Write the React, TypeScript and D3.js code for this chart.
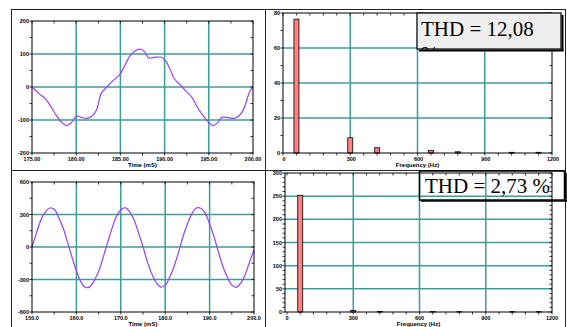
import React from "react";
import * as d3 from "d3";

// ---- Data ----
const topTime = [175.0, 175.8, 176.6, 177.2, 177.8, 178.4, 178.9, 179.4, 179.8, 180.1, 180.6, 181.2, 181.8, 182.3, 182.6, 182.8, 183.3, 184.2, 185.0, 185.5, 186.1, 186.7, 187.2, 187.7, 188.2, 188.8, 189.6, 190.1, 190.6, 191.1, 191.7, 192.4, 193.1, 193.8, 194.5, 195.1, 195.5, 196.0, 196.5, 197.2, 197.9, 198.4, 198.9, 199.3, 199.6, 200.0];
const topVoltage = [0, -20, -38, -62, -88, -108, -117, -110, -95, -88, -92, -95, -88, -70, -40, -20, -5, 20, 40, 65, 95, 110, 115, 108, 88, 90, 90, 80, 55, 25, 8, -12, -32, -65, -92, -110, -117, -108, -92, -93, -95, -88, -70, -40, -15, 0];

const bottomTime = [150, 151, 152, 153, 154, 155, 156, 157, 158, 159, 160, 161, 162, 163, 164, 165, 166, 167, 168, 169, 170, 171, 172, 173, 174, 175, 176, 177, 178, 179, 180, 181, 182, 183, 184, 185, 186, 187, 188, 189, 190, 191, 192, 193, 194, 195, 196, 197, 198, 199, 200];
const bottomVoltage = [0, 128, 250, 322, 360, 348, 272, 178, 45, -92, -218, -320, -372, -368, -310, -225, -100, 38, 170, 282, 342, 362, 325, 250, 130, 4, -140, -250, -330, -370, -352, -280, -180, -50, 95, 212, 308, 360, 358, 315, 212, 95, -48, -180, -280, -350, -372, -335, -255, -140, -28];

const topHarmFreq = [60, 300, 420, 660, 780, 1020, 1140];
const topHarmAmp = [76.5, 8.7, 3.0, 1.5, 0.7, 0.4, 0.4];
const botHarmFreq = [60, 300, 420, 660, 780, 1020, 1140];
const botHarmAmp = [252, 3.5, 1.0, 0.8, 0.8, 0.8, 0.8];

const tlXTicks = [175, 180, 185, 190, 195, 200];
const tlXLabels = ["175.00", "180.00", "185.00", "190.00", "195.00", "200.00"];
const tlYTicks = [-200, -100, 0, 100, 200];
const tlYLabels = ["-200", "-100", "0", "100", "200"];

const blXTicks = [150, 160, 170, 180, 190, 200];
const blXLabels = ["150.0", "160.0", "170.0", "180.0", "190.0", "200.0"];
const blYTicks = [-600, -300, 0, 300, 600];
const blYLabels = ["-600", "-300", "0", "300", "600"];

const trXTicks = [0, 300, 600, 900, 1200];
const trXLabels = ["0", "300", "600", "900", "1200"];
const trYTicks = [0, 20, 40, 60, 80];
const trYLabels = ["0", "20", "40", "60", "80"];

const brXTicks = [0, 300, 600, 900, 1200];
const brXLabels = ["0", "300", "600", "900", "1200"];
const brYTicks = [0, 50, 100, 150, 200, 250, 300];
const brYLabels = ["0", "50", "100", "150", "200", "250", "300"];

const thdTop = "THD = 12,08";
const thdBottom = "THD = 2,73 %";

// ---- Styles ----
const GRID = "#3a9e9b";
const LINE = "#9b3cff";
const BAR = "#ff8080";
const LBL = { fontFamily: "Liberation Sans, Arial, sans-serif", fontWeight: 700, fontSize: 5.5 } as const;

type PlotProps = {
  x: d3.ScaleLinear<number, number>;
  y: d3.ScaleLinear<number, number>;
  xTicks: number[];
  xLabels: string[];
  xMinorStep: number;
  yTicks: number[];
  yLabels: string[];
  yMinorStep: number;
  xGridSkipEnds?: boolean;
  title: string;
  titleY: number;
  xLabelDx?: number;
  children?: React.ReactNode;
};

function Plot(p: PlotProps) {
  const [x0, x1] = p.x.range();
  const [y0, y1] = p.y.range(); // y0 bottom, y1 top
  const [dx0, dx1] = p.x.domain();
  const [dy0, dy1] = p.y.domain();
  const xMinor = d3.range(Math.ceil(dx0 / p.xMinorStep) * p.xMinorStep, dx1 + 1e-6, p.xMinorStep);
  const yMinor = d3.range(Math.ceil(dy0 / p.yMinorStep) * p.yMinorStep, dy1 + 1e-6, p.yMinorStep);
  const xGrid = p.xTicks.filter((t) => p.x(t) > x0 + 2 && p.x(t) < x1 - 2);
  const yGrid = p.yTicks.filter((t) => p.y(t) < y0 - 2 && p.y(t) > y1 + 2);
  return (
    <g>
      {xGrid.map((t, i) => (
        <line key={"gx" + i} x1={p.x(t)} x2={p.x(t)} y1={y0} y2={y1} stroke={GRID} strokeWidth={1.5} />
      ))}
      {yGrid.map((t, i) => (
        <line key={"gy" + i} x1={x0} x2={x1} y1={p.y(t)} y2={p.y(t)} stroke={GRID} strokeWidth={1.5} />
      ))}
      {p.children}
      <rect x={x0} y={y1} width={x1 - x0} height={y0 - y1} fill="none" stroke="#000" strokeWidth={1} />
      {xMinor.map((t, i) => (
        <g key={"xm" + i}>
          <line x1={p.x(t)} x2={p.x(t)} y1={y0} y2={y0 + 2.5} stroke="#000" strokeWidth={0.8} />
          <line x1={p.x(t)} x2={p.x(t)} y1={y1} y2={y1 + 2.5} stroke="#000" strokeWidth={0.8} />
        </g>
      ))}
      {yMinor.map((t, i) => (
        <g key={"ym" + i}>
          <line x1={x0 - 2.5} x2={x0} y1={p.y(t)} y2={p.y(t)} stroke="#000" strokeWidth={0.8} />
          <line x1={x1 - 2.5} x2={x1} y1={p.y(t)} y2={p.y(t)} stroke="#000" strokeWidth={0.8} />
        </g>
      ))}
      {p.xTicks.map((t, i) => (
        <text key={"xl" + i} x={p.x(t) + (p.xLabelDx || 0)} y={y0 + 8} textAnchor="middle" style={LBL}>
          {p.xLabels[i]}
        </text>
      ))}
      {p.yTicks.map((t, i) => (
        <text key={"yl" + i} x={x0 - 3} y={p.y(t) + 2} textAnchor="end" style={LBL}>
          {p.yLabels[i]}
        </text>
      ))}
      <text x={(x0 + x1) / 2} y={p.titleY} textAnchor="middle" style={{ ...LBL, fontSize: 6 }}>
        {p.title}
      </text>
    </g>
  );
}

export default function App() {
  const tlX = d3.scaleLinear().domain([175, 200]).range([32, 253]);
  const tlY = d3.scaleLinear().domain([-200, 200]).range([153, 21]);
  const blX = d3.scaleLinear().domain([150, 200]).range([32, 254]);
  const blY = d3.scaleLinear().domain([-600, 600]).range([312, 182]);
  const trX = d3.scaleLinear().domain([0, 1200]).range([283, 552]);
  const trY = d3.scaleLinear().domain([0, 80]).range([153, 13]);
  const brX = d3.scaleLinear().domain([-9, 1200]).range([285, 552]);
  const brY = d3.scaleLinear().domain([0, 300]).range([312, 173]);

  const topLine = d3
    .line<number>()
    .x((_, i) => tlX(topTime[i]))
    .y((d) => tlY(d))
    .curve(d3.curveCatmullRom);
  const botLine = d3
    .line<number>()
    .x((_, i) => blX(bottomTime[i]))
    .y((d) => blY(d))
    .curve(d3.curveCatmullRom);

  const barWTop = 5;
  const barWBot = 5;

  return (
    <svg width={567} height={327} style={{ position: "absolute", left: 0, top: 0, background: "#fff" }}>
      <defs>
        <clipPath id="thdclip">
          <rect x={417} y={13} width={144} height={36} />
        </clipPath>
      </defs>
      {/* frames */}
      <rect x={11.5} y={9.5} width={554} height={330} fill="none" stroke="#222" strokeWidth={1} />
      <line x1={265.5} x2={265.5} y1={9.5} y2={327} stroke="#222" strokeWidth={1} />
      <line x1={11.5} x2={566} y1={170.5} y2={170.5} stroke="#222" strokeWidth={1} />

      {/* top-left time plot */}
      <Plot x={tlX} y={tlY} xTicks={tlXTicks} xLabels={tlXLabels} xMinorStep={2.5} yTicks={tlYTicks} yLabels={tlYLabels} yMinorStep={50} title="Time (mS)" titleY={167}>
        <path d={topLine(topVoltage) || ""} fill="none" stroke={LINE} strokeWidth={1.2} />
      </Plot>

      {/* bottom-left time plot */}
      <Plot x={blX} y={blY} xTicks={blXTicks} xLabels={blXLabels} xMinorStep={5} yTicks={blYTicks} yLabels={blYLabels} yMinorStep={150} title="Time (mS)" titleY={326}>
        <path d={botLine(bottomVoltage) || ""} fill="none" stroke={LINE} strokeWidth={1.2} />
      </Plot>

      {/* top-right spectrum */}
      <Plot x={trX} y={trY} xTicks={trXTicks} xLabels={trXLabels} xMinorStep={60} yTicks={trYTicks} yLabels={trYLabels} yMinorStep={10} title="Frequency (Hz)" titleY={167} xLabelDx={1}>
        {topHarmFreq.map((f, i) => (
          <rect key={i} x={trX(f) - barWTop / 2} y={trY(topHarmAmp[i])} width={barWTop} height={trY(0) - trY(topHarmAmp[i])} fill={BAR} stroke="#000" strokeWidth={0.8} />
        ))}
      </Plot>

      {/* bottom-right spectrum */}
      <Plot x={brX} y={brY} xTicks={brXTicks} xLabels={brXLabels} xMinorStep={60} yTicks={brYTicks} yLabels={brYLabels} yMinorStep={10} title="Frequency (Hz)" titleY={326}>
        {botHarmFreq.map((f, i) => (
          <rect key={i} x={brX(f) - barWBot / 2} y={brY(botHarmAmp[i])} width={barWBot} height={brY(0) - brY(botHarmAmp[i])} fill={BAR} stroke="#000" strokeWidth={0.8} />
        ))}
      </Plot>

      {/* THD boxes */}
      <line x1={562.5} x2={562.5} y1={15} y2={51} stroke="#000" strokeWidth={2} />
      <line x1={419} x2={563.5} y1={50.5} y2={50.5} stroke="#000" strokeWidth={2} />
      <rect x={417} y={13} width={144} height={36} fill="#efefef" stroke="#000" strokeWidth={1.2} />
      <g clipPath="url(#thdclip)">
        <text x={421} y={36} style={{ fontFamily: "Liberation Serif, Times New Roman, serif", fontSize: 21 }}>{thdTop}</text>
        <text x={421} y={61} style={{ fontFamily: "Liberation Serif, Times New Roman, serif", fontSize: 21 }}>%</text>
      </g>
      <rect x={419.5} y={171} width={145} height={29} fill="none" stroke="#000" strokeWidth={1.5} />
      <line x1={566} x2={566} y1={173} y2={202} stroke="#000" strokeWidth={1.5} />
      <line x1={421} x2={567} y1={201} y2={201} stroke="#000" strokeWidth={1.5} />
      <text x={425} y={193} style={{ fontFamily: "Liberation Serif, Times New Roman, serif", fontSize: 21 }}>{thdBottom}</text>
    </svg>
  );
}
